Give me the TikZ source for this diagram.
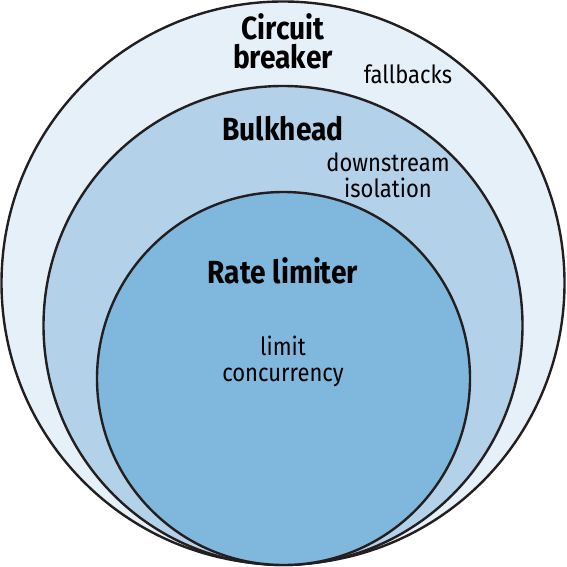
\documentclass[tikz,border=0pt]{standalone}
\usepackage{fontspec}
\setmainfont[FakeStretch=0.88]{Fira Sans}
\definecolor{outerfill}{HTML}{E5F0F9}
\definecolor{midfill}{HTML}{B3D1E9}
\definecolor{innerfill}{HTML}{7FB7DD}
\definecolor{ink}{HTML}{231F20}
\tikzset{
  ring/.style={draw=ink, line width=2.4pt},
  title/.style={font=\fontsize{32}{29}\selectfont\bfseries, text=black, align=center, inner sep=0pt},
  note/.style={font=\fontsize{25}{26}\selectfont, text=black, align=center, inner sep=0pt}
}
\begin{document}
\begin{tikzpicture}[x=1pt,y=-1pt]
\useasboundingbox (0,0) rectangle (566,567);
\fill[white] (0,0) rectangle (566,567);
\draw[ring, fill=outerfill] (283,283) circle[radius=281.5];
\draw[ring, fill=midfill] (283,325.5) circle[radius=239.5];
\draw[ring, fill=innerfill] (283.5,378.5) circle[radius=186.5];
\node[title] (cb) at (283,41) {Circuit\\breaker};
\node[note] (fb) at (408,74) {fallbacks};
\node[title] (bh) at (283,129) {Bulkhead};
\node[note] (ds) at (388,175) {downstream\\isolation};
\node[title] (rl) at (283,271) {Rate limiter};
\node[note] (lc) at (283,361) {limit\\concurrency};
\end{tikzpicture}
\end{document}
